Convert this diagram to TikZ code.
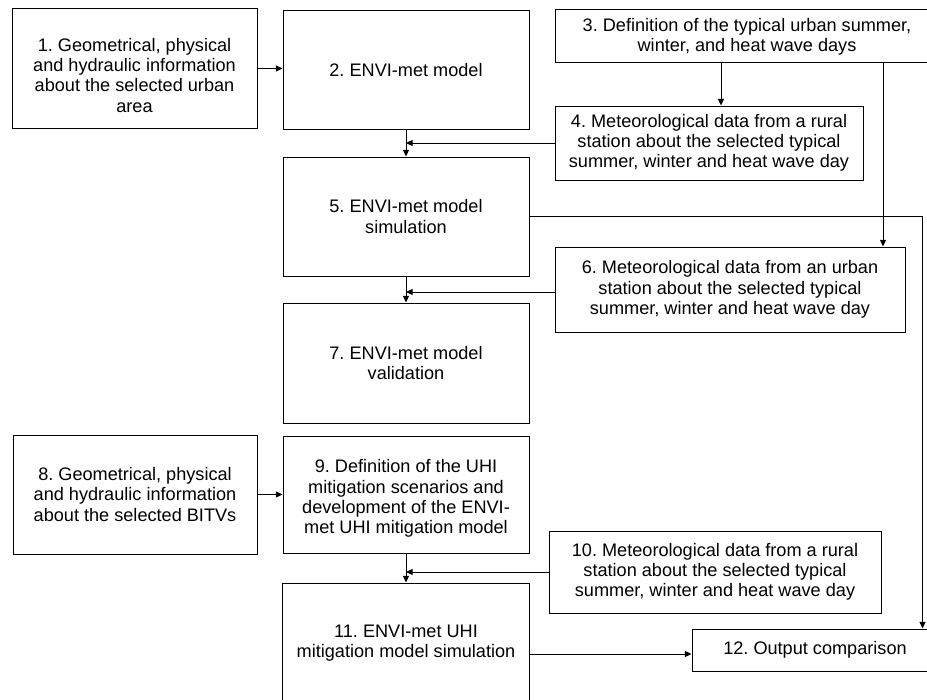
\documentclass[tikz,border=0pt]{standalone}
\usepackage{fontspec}
\setmainfont{Liberation Sans}
\frenchspacing
\usetikzlibrary{arrows.meta, calc}

\tikzset{
    blk/.style = {draw, line width = 0.75pt, align = center, inner sep = 0pt, font = \fontsize{13.6}{15.2}\selectfont},
    box/.style 2 args = {blk, minimum width = #1*0.75pt, minimum height = #2*0.75pt},
    arr/.style = {line width = 0.75pt, -{Triangle[length = 5pt, width = 4.5pt]}}
}

\begin{document}
\begin{tikzpicture}[x = 0.75pt, y = -0.75pt]
    \useasboundingbox (0,0) rectangle (927,699);
    \node[box = {245}{119}] (geom) at (134.5,68.5) {\rule{0pt}{20pt}1. Geometrical, physical\\and hydraulic information\\about the selected urban\\area};
    \node[box = {246}{118}] (envimodel) at (406,70) {2. ENVI-met model};
    \node[box = {384}{53}] (typdays) at (747,36.5) {3. Definition of the typical urban summer,\\winter, and heat wave days};
    \node[box = {308}{74}] (ruraldata) at (709,143) {4. Meteorological data from a rural\\station about the selected typical\\summer, winter and heat wave day};
    \node[box = {246}{119}] (simul) at (406,216.5) {5. ENVI-met model\\simulation};
    \node[box = {350}{85}] (urbandata) at (730,289.5) {6. Meteorological data from an urban\\station about the selected typical\\summer, winter and heat wave day};
    \node[box = {246}{120}] (valid) at (406,363) {7. ENVI-met model\\validation};
    \node[box = {244}{119}] (bitv) at (135,494.5) {8. Geometrical, physical\\and hydraulic information\\about the selected BITVs};
    \node[box = {246}{117}] (scen) at (406,494.5) {\rule{0pt}{16pt}9. Definition of the UHI\\mitigation scenarios and\\development of the ENVI-\\met UHI mitigation model};
    \node[box = {332}{82}] (ruraldatab) at (715,572) {10. Meteorological data from a rural\\station about the selected typical\\summer, winter and heat wave day};
    \node[box = {247}{120}] (uhisim) at (406,643) {11. ENVI-met UHI\\mitigation model simulation};
    \node[box = {246}{42}] (outcmp) at (815,650) {12. Output comparison};

    \coordinate (t1) at (721,0);
    \coordinate (t2) at (883,0);
    \coordinate (t3) at (922.5,0);

    \draw[arr] (geom.east) -- (geom.east -| envimodel.west);
    \draw[arr] (envimodel) -- (simul);
    \draw[arr] (ruraldata.west) -- (ruraldata.west -| simul.north);
    \draw[arr] (typdays.south -| t1) -- (ruraldata.north -| t1);
    \draw[arr] (typdays.south -| t2) -- (urbandata.north -| t2);
    \draw[arr] (simul.east) -- (simul.east -| t3) -- (outcmp.north -| t3);
    \draw[arr] (simul) -- (valid);
    \draw[arr] ($(urbandata.west)+(0,2.5)$) -- ($(urbandata.west -| valid.north)+(0,2.5)$);
    \draw[arr] (bitv) -- (scen);
    \draw[arr] (scen) -- (uhisim);
    \draw[arr] (ruraldatab.west) -- (ruraldatab.west -| uhisim.north);
    \draw[arr] ($(outcmp.west -| uhisim.east)+(0,4)$) -- ($(outcmp.west)+(0,4)$);
\end{tikzpicture}
\end{document}
